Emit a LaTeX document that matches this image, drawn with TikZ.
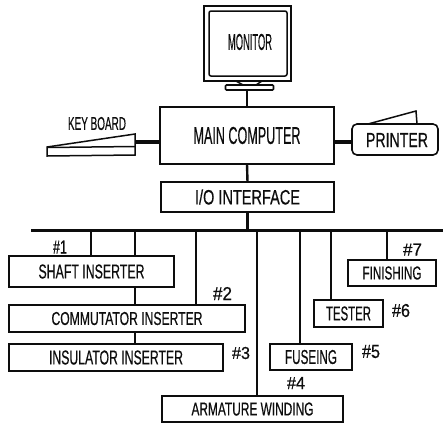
\documentclass[tikz,border=0pt]{standalone}
\usepackage{graphicx}
\usepackage{fontspec}
\setmainfont[FakeBold=0.6]{Liberation Sans}
\newcommand{\fitt}[3]{\resizebox{#1pt}{#2pt}{#3}}
\definecolor{ink}{gray}{0.05}
\tikzset{
  x=1pt,y=-1pt,
  boxn/.style={draw=ink,line width=1.6pt,rectangle,inner sep=0pt,outer sep=0pt,text=ink,align=center},
  lab/.style={inner sep=0pt,outer sep=0pt,text=ink},
  thin wire/.style={draw=ink,line width=1.5pt},
  wire/.style={draw=ink,line width=2.4pt},
  thick wire/.style={draw=ink,line width=3.2pt},
  busline/.style={draw=ink,line width=3pt}
}
\newcommand{\bx}[7]{\node[boxn,minimum width=#4pt,minimum height=#5pt] (#1) at (#2,#3) {\fitt{#6}{#7}{\csname txt#1\endcsname}};}
\newcommand{\txtmain}{MAIN COMPUTER}
\newcommand{\txtio}{I/O INTERFACE}
\newcommand{\txtshaft}{SHAFT INSERTER}
\newcommand{\txtcomm}{COMMUTATOR INSERTER}
\newcommand{\txtinsu}{INSULATOR INSERTER}
\newcommand{\txtarm}{ARMATURE WINDING}
\newcommand{\txtfuse}{FUSEING}
\newcommand{\txttest}{TESTER}
\newcommand{\txtfin}{FINISHING}
\begin{document}
\begin{tikzpicture}
\useasboundingbox (0,0) rectangle (443,424);
% monitor
\node[boxn,minimum width=87pt,minimum height=75pt] (monitor) at (247.5,43.5) {};
\draw[thin wire,rounded corners=2pt] (209,11) rectangle (287,76);
\node[lab] (montext) at (250,42) {\fitt{44}{16}{MONITOR}};
\node[boxn,rounded corners=1pt,minimum width=48pt,minimum height=5pt] (base) at (249.5,87.5) {};
\draw[thin wire] (236,81) -- (243,85) -- (256,85) -- (262,81);
% main
\bx{main}{247}{135.5}{174}{57}{107}{17}
\bx{io}{247.5}{197}{173}{30}{105}{15}
% keyboard
\coordinate (kbR) at (135,142);
\draw[thin wire] (47,147) -- (135,134) -- (135,155) -- (47,156) -- cycle;
\draw[thin wire] (47,147.5) -- (135,146.5);
\node[lab] (kbtext) at (97,123.5) {\fitt{58}{13}{KEY BOARD}};
% printer
\node[boxn,rounded corners=5pt,minimum width=86pt,minimum height=31pt] (printer) at (395,139.5) {};
\node[lab] (prtext) at (397,140) {\fitt{62}{14}{PRINTER}};
\draw[thin wire] (368,124) -- (416,111) -- (417,124);
% connectors upper
\draw[wire] (base.south -| main.north) -- (main.north);
\draw[thick wire] (kbR) -- (kbR -| main.west);
\draw[thick wire] (main.east |- kbR) -- (printer.west |- kbR);
\draw[wire] (main.south) -- (io.north);
% lower boxes
\bx{shaft}{91.5}{271.5}{165}{31}{106}{14}
\bx{comm}{127}{318.5}{236}{27}{151}{13}
\bx{insu}{116}{357.5}{214}{27}{134}{14}
\bx{arm}{252.5}{409}{181}{26}{122}{13}
\bx{fuse}{311}{357}{82}{26}{52}{14}
\bx{test}{348.5}{313.5}{69}{27}{45}{14}
\bx{fin}{392}{273}{88}{26}{59}{13}
% bus
\coordinate (busL) at (31,230);
\coordinate (busR) at (443,230);
\coordinate (b1) at (91,230);
\coordinate (b2) at (135,230);
\coordinate (b3) at (196,230);
\coordinate (b4) at (257,230);
\coordinate (b5) at (300,230);
\coordinate (b6) at (331,230);
\coordinate (b7) at (387,230);
\draw[busline] (busL) -- (busR);
\draw[wire] (io.south) -- (io.south |- busL);
\draw[wire] (b1) -- (b1 |- shaft.north);
\draw[wire] (b2) -- (b2 |- shaft.north);
\draw[wire] (b2 |- shaft.south) -- (b2 |- comm.north);
\draw[wire] (b3) -- (b3 |- comm.north);
\draw[wire] (b2 |- comm.south) -- (b2 |- insu.north);
\draw[wire] (b4) -- (b4 |- arm.north);
\draw[wire] (b5) -- (b5 |- fuse.north);
\draw[wire] (b6) -- (b6 |- test.north);
\draw[wire] (b7) -- (b7 |- fin.north);
% number labels
\node[lab] (n1) at (60,247) {\fitt{14}{13}{\#1}};
\node[lab] (n2) at (222.5,293.5) {\fitt{19}{13}{\#2}};
\node[lab] (n3) at (241,353) {\fitt{18}{12}{\#3}};
\node[lab] (n4) at (296,383) {\fitt{18}{12}{\#4}};
\node[lab] (n5) at (371,351.5) {\fitt{18}{13}{\#5}};
\node[lab] (n6) at (401,310.5) {\fitt{18}{13}{\#6}};
\node[lab] (n7) at (412.5,249.5) {\fitt{19}{12}{\#7}};
\end{tikzpicture}
\end{document}
